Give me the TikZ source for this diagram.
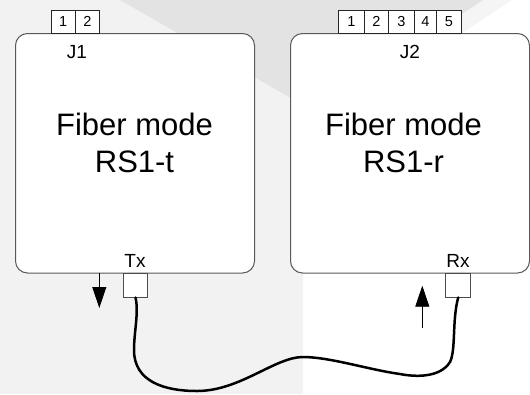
\documentclass[tikz,border=0pt]{standalone}
\usepackage{fontspec}
\setmainfont{Liberation Sans}
\usetikzlibrary{arrows.meta}
\tikzset{
    modebox/.style = {draw = black!65, line width = 1pt, fill = white, rounded corners = 12pt, minimum width = 239pt, minimum height = 239.5pt, inner sep = 0pt},
    pincell/.style = {draw = black!85, line width = 0.8pt, fill = white, minimum height = 23.5pt, inner sep = 0pt, font = \fontsize{14.5}{16}\selectfont},
    portbox/.style = {draw = black!70, line width = 1pt, fill = white, minimum width = 24.5pt, minimum height = 24pt, inner sep = 0pt},
    biglabel/.style = {align = center, inner sep = 0pt, font = \fontsize{31}{37.7}\selectfont},
    smalllabel/.style = {inner sep = 0pt, font = \fontsize{19}{22}\selectfont},
    flowarrow/.style = {line width = 0.9pt, -{Triangle[length = 21pt, width = 14pt]}},
    fibercable/.style = {line width = 2.5pt, line cap = round}
}
\begin{document}
\begin{tikzpicture}[x = 1pt, y = -1pt]
    \useasboundingbox (0, 0) rectangle (530, 394);
    % backdrop
    \fill[white] (0, 0) rectangle (530, 394);
    \fill[black!5] (0, 0) rectangle (303, 394);
    \fill[black!4] (483, 0) -- (512, 0) -- (462, 33) -- (462, 14) -- cycle;
    \fill[black!11] (120, 0) -- (483, 0) -- (462, 14) -- (462, 33) -- (303, 105) -- cycle;

    \node[modebox] (boxt) at (135, 153.25) {};
    \node[modebox] (boxr) at (410, 153.25) {};

    \node[biglabel] (textt) at (134.5, 143) {Fiber mode\\RS1-t};
    \node[biglabel] (textr) at (403.5, 143) {Fiber mode\\RS1-r};

    % pins
    \node[pincell, minimum width = 24.5pt] (ja) at (63.25, 21.75) {\raisebox{-1pt}{1}};
    \node[pincell, minimum width = 24pt] (jb) at (87.5, 21.75) {\raisebox{1pt}{2}};
    \foreach \pin/\x/\w in {1/351.3/26, 2/376.3/24, 3/401.3/26, 4/425.3/22, 5/449/25.4} {
        \node[pincell, minimum width = \w pt] (pin\pin) at (\x, 21.75) {\pin};
    }
    \node[smalllabel] (jone) at (77, 52) {J1};
    \node[smalllabel] (jtwo) at (410, 52) {J2};

    % ports
    \node[portbox] (tx) at (135.5, 285) {};
    \node[portbox] (rx) at (458.2, 285) {};
    \node[smalllabel] (txlabel) at (135, 261) {Tx};
    \node[smalllabel] (rxlabel) at (458, 261) {Rx};

    \coordinate (downa) at (99.3, 273);
    \coordinate (downb) at (99.3, 308);
    \coordinate (upa) at (422.3, 328);
    \coordinate (upb) at (422.3, 285.7);
    \draw[flowarrow] (downa) -- (downb);
    \draw[flowarrow] (upa) -- (upb);

    \draw[fibercable] (tx.south) .. controls (139, 312) and (134, 332) .. (134, 350)
        .. controls (134, 382) and (165, 391) .. (197, 391)
        .. controls (240, 391) and (275, 357) .. (303, 357)
        .. controls (330, 357) and (370, 370) .. (400, 374)
        .. controls (415, 377) and (440, 378) .. (450, 362)
        .. controls (456, 350) and (452, 320) .. (rx.south);
\end{tikzpicture}
\end{document}
